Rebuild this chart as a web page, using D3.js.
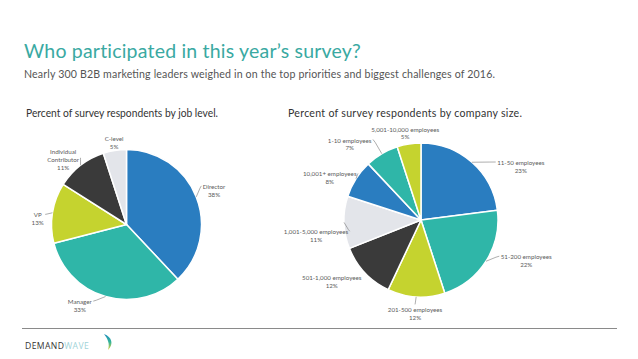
<!DOCTYPE html>
<html><head><meta charset="utf-8">
<script src="https://cdn.jsdelivr.net/npm/d3@7"></script>
<style>
html,body{margin:0;padding:0;background:#fff;}
svg{display:block;font-family:Lato,"Open Sans",sans-serif;}
</style></head>
<body>
<svg id="chart" width="638" height="359"></svg>
<script>
// ---- data ----
const jobLevels = ["Director", "Manager", "VP", "Individual\nContributor", "C-level"];
const jobValues = [38, 33, 13, 11, 5];
const sizeCategories = ["11-50 employees", "51-200 employees", "201-500 employees", "501-1,000 employees",
  "1,001-5,000 employees", "10,001+ employees", "1-10 employees", "5,001-10,000 employees"];
const sizeValues = [23, 22, 12, 12, 11, 8, 7, 5];

// ---- styling / layout ----
const jobColors = ["#2a7dc0", "#2fb6a8", "#c5d32f", "#3a3a3a", "#e3e5ea"];
const sizeColors = ["#2a7dc0", "#2fb6a8", "#c5d32f", "#3a3a3a", "#e3e5ea", "#2a7dc0", "#2fb6a8", "#c5d32f"];
// label nudges relative to polar anchor, and whether a leader line is drawn
const jobLabelLayout = [
  {dx: 2, dy: 0, leader: true}, {dx: -21, dy: -7, leader: true}, {dx: 2, dy: 9, leader: true},
  {dx: -7, dy: 8, leader: true}, {dx: 2, dy: 9, leader: false}];
const sizeLabelLayout = [
  {dx: 37, dy: 18, leader: true}, {dx: 25, dy: -10, leader: true}, {dx: 0, dy: -1, leader: true},
  {dx: -20, dy: -3, leader: false}, {dx: -10, dy: 13, leader: true}, {dx: -11, dy: 9, leader: true},
  {dx: -23, dy: 6, leader: true}, {dx: -1, dy: 7, leader: false}];

const svg = d3.select("#chart");

// title & subtitle
svg.append("text").attr("x", 24).attr("y", 58).attr("fill", "#3aa9a2")
  .attr("font-size", 19.5).attr("letter-spacing", 0.2).text("Who participated in this year\u2019s survey?");
svg.append("text").attr("x", 24).attr("y", 78).attr("fill", "#555")
  .attr("font-size", 10.6).attr("textLength", 471).attr("lengthAdjust", "spacing")
  .text("Nearly 300 B2B marketing leaders weighed in on the top priorities and biggest challenges of 2016.");
svg.append("text").attr("x", 26).attr("y", 117).attr("fill", "#333")
  .attr("font-size", 10.6).attr("textLength", 192).attr("lengthAdjust", "spacingAndGlyphs")
  .text("Percent of survey respondents by job level.");
svg.append("text").attr("x", 288).attr("y", 117).attr("fill", "#333")
  .attr("font-size", 10.6).attr("textLength", 234).attr("lengthAdjust", "spacing")
  .text("Percent of survey respondents by company size.");

function drawPie(cx, cy, r, labels, values, colors, layout, labelR) {
  const g = svg.append("g").attr("transform", `translate(${cx},${cy})`);
  const pie = d3.pie().sort(null).value(d => d)(values);
  const arc = d3.arc().innerRadius(0).outerRadius(r);
  g.selectAll("path.slice").data(pie).join("path")
    .attr("class", "slice")
    .attr("d", arc)
    .attr("fill", (d, i) => colors[i])
    .attr("stroke", "#fff").attr("stroke-width", 1.5).attr("stroke-linejoin", "round");

  const fs = 6.2, lh = 7.6;
  pie.forEach((d, i) => {
    const a = (d.startAngle + d.endAngle) / 2;
    const lay = layout[i];
    const lx = labelR * Math.sin(a) + lay.dx;
    const ly = -labelR * Math.cos(a) + lay.dy;
    const lines = labels[i].split("\n").concat([values[i] + "%"]);
    const top = ly - (lines.length - 1) * lh / 2;
    const t = g.append("text").attr("text-anchor", "middle").attr("font-size", fs).attr("fill", "#5a5a5a");
    lines.forEach((ln, k) => {
      t.append("tspan").attr("x", lx).attr("y", top + k * lh + fs * 0.35).text(ln);
    });
    if (lay.leader) {
      const px = r * Math.sin(a), py = -r * Math.cos(a);
      let w = 0;
      t.selectAll("tspan").each(function () { w = Math.max(w, this.getComputedTextLength()); });
      let ex, ey;
      const firstY = top - fs * 0.15;
      if (Math.abs(px) < r * 0.15) {
        ex = lx; ey = py > 0 ? top - fs * 0.9 : top + (lines.length - 1) * lh + 2;
      } else if (px > 0) {
        ex = lx - w / 2 - 1.5; ey = firstY;
      } else {
        ex = lx + w / 2 + 1.5; ey = (lines.length > 2) ? top + lh - 2 : firstY;
      }
      g.append("polyline")
        .attr("points", `${px},${py} ${(px + ex) / 2 + (ex - px) * 0.25},${ey + (py - ey) * 0.2} ${ex},${ey}`)
        .attr("fill", "none").attr("stroke", "#777").attr("stroke-width", 0.6);
    }
  });
}

drawPie(126.5, 224.5, 75, jobLevels, jobValues, jobColors, jobLabelLayout, 92);
drawPie(421, 220, 77, sizeCategories, sizeValues, sizeColors, sizeLabelLayout, 95);

// footer
svg.append("line").attr("x1", 22).attr("x2", 617).attr("y1", 328.5).attr("y2", 328.5)
  .attr("stroke", "#8a8a8a").attr("stroke-width", 1);
const logo = svg.append("text").attr("x", 25).attr("y", 349).attr("font-size", 8.6)
  .attr("letter-spacing", 0.4).attr("font-family", "'Open Sans',Lato,sans-serif");
logo.append("tspan").attr("fill", "#333").text("DEMAND");
logo.append("tspan").attr("fill", "#9fd3d8").text("WAVE");
const defs = svg.append("defs");
const grad = defs.append("linearGradient").attr("id", "leaf").attr("x1", 0).attr("y1", 0).attr("x2", 0).attr("y2", 1);
grad.append("stop").attr("offset", 0).attr("stop-color", "#1f8dbf");
grad.append("stop").attr("offset", 0.5).attr("stop-color", "#33b49a");
grad.append("stop").attr("offset", 1).attr("stop-color", "#e2d43a");
svg.append("path").attr("d", "M104,334 C112,337 114,344 108,350 C110,344 108,339 104,334 Z")
  .attr("fill", "url(#leaf)");
</script>
</body></html>
